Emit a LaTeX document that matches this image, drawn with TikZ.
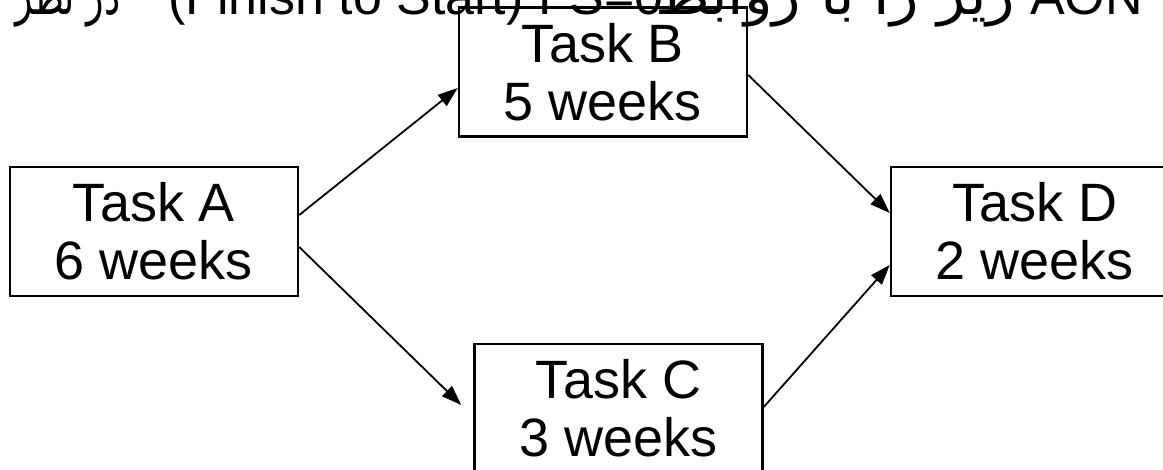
\documentclass[tikz,border=0pt]{standalone}
\usepackage{graphicx}
\usepackage{fontspec}
\setmainfont{Liberation Sans}
\newfontfamily\arabicfont[Script=Arabic]{DejaVu Sans}
\TeXXeTstate=1
\usetikzlibrary{arrows.meta}
\tikzset{
  taskbox/.style={draw, line width=2.5pt, minimum width=288pt, minimum height=129pt,
    inner sep=0pt, align=center, font=\fontsize{54}{58}\selectfont},
  arr/.style={line width=1.8pt, -{Triangle[length=20pt,width=14pt]}},
  titlepart/.style={inner sep=0pt, font=\fontsize{52}{54}\selectfont},
}
\begin{document}
\begin{tikzpicture}[x=1pt,y=-1pt]
\useasboundingbox (0,0) rectangle (1163,469);
\clip (0,0) rectangle (1163,469);
\node[titlepart, anchor=base west] (t1) at (15,14)
  {\resizebox{105pt}{\height}{\arabicfont\beginR در نظر\endR}};
\node[titlepart, anchor=base west] (t2) at (168,14) {(Finish to Start) FS=0};
\node[titlepart, anchor=base west] (t3) at (655,14)
  {\resizebox{360pt}{\height}{\arabicfont\beginR زیر را با روابط\endR}};
\node[titlepart, anchor=base west] (t4) at (1030,14) {AON};
\node[taskbox] (A) at (154,231.5) {Task A\\6 weeks};
\node[taskbox] (B) at (603,72) {Task B\\5 weeks};
\node[taskbox] (C) at (618.5,408.5) {Task C\\3 weeks};
\node[taskbox] (D) at (1035,231.5) {Task D\\2 weeks};
\draw[arr] ([yshift=16.5pt]A.east) -- ([yshift=-16pt]B.west);
\draw[arr] ([yshift=-15.5pt]A.east) -- ([xshift=-12pt,yshift=3.5pt]C.west);
\draw[arr] ([yshift=-3pt]B.east) -- ([yshift=18.5pt]D.west);
\draw[arr] ([yshift=1.5pt]C.east) -- ([yshift=-33.5pt]D.west);
\end{tikzpicture}
\end{document}
